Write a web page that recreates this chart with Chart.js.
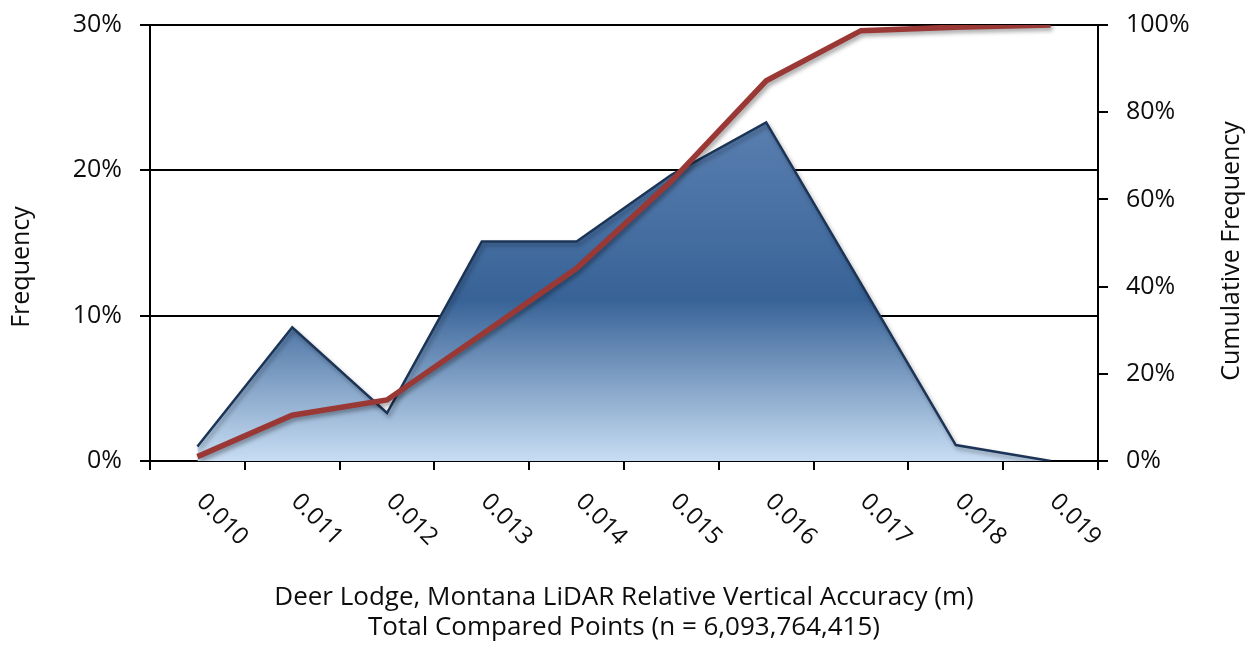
<!DOCTYPE html>
<html>
<head>
<meta charset="utf-8">
<script src="https://cdn.jsdelivr.net/npm/chart.js@4"></script>
<style>
  body { margin: 0; background: #fff; }
  #wrap { width: 1254px; height: 650px; position: relative; }
</style>
</head>
<body>
<div id="wrap"><canvas id="histChart"></canvas></div>
<script>
// data
const categories = ['0.010', '0.011', '0.012', '0.013', '0.014', '0.015', '0.016', '0.017', '0.018', '0.019'];
const frequency = [1.0, 9.2, 3.3, 15.1, 15.1, 19.7, 23.3, 12.2, 1.1, 0];
const cumulative = [1.0, 10.5, 14.0, 29.0, 44.2, 64.2, 87.2, 98.7, 99.5, 100];
const leftTicks = [0, 10, 20, 30];
const rightTicks = [0, 20, 40, 60, 80, 100];
const xTitleLines = ['Deer Lodge, Montana LiDAR Relative Vertical Accuracy (m)', 'Total Compared Points (n = 6,093,764,415)'];

const FONT = '"Open Sans", "DejaVu Sans", sans-serif';
const TEXT = '#0d0d0d';

// drop shadow for the area and the red line
const shadowPlugin = {
  id: 'shadows',
  beforeDatasetDraw(chart, args) {
    const ctx = chart.ctx;
    ctx.save();
    ctx.shadowColor = 'rgba(0,0,0,0.35)';
    ctx.shadowBlur = 4;
    ctx.shadowOffsetX = 2;
    ctx.shadowOffsetY = 3;
  },
  afterDatasetDraw(chart) {
    chart.ctx.restore();
  }
};

// rotated category labels and axis titles
const textPlugin = {
  id: 'texts',
  afterDraw(chart) {
    const ctx = chart.ctx;
    const area = chart.chartArea;
    const xs = chart.scales.x;
    ctx.save();
    ctx.fillStyle = TEXT;
    ctx.font = '24px ' + FONT;
    ctx.textAlign = 'left';
    ctx.textBaseline = 'middle';
    categories.forEach((c, i) => {
      const x = xs.getPixelForTick(i);
      ctx.save();
      ctx.translate(x + 3, area.bottom + 37);
      ctx.rotate(Math.PI / 4);
      ctx.fillText(c, 0, 0);
      ctx.restore();
    });

    ctx.font = '26px ' + FONT;
    ctx.textAlign = 'center';
    ctx.textBaseline = 'alphabetic';
    const cx = (area.left + area.right) / 2;
    ctx.fillText(xTitleLines[0], cx, 605);
    ctx.fillText(xTitleLines[1], cx, 635);

    ctx.font = '25px ' + FONT;
    ctx.textBaseline = 'middle';
    ctx.save();
    ctx.translate(22, 267);
    ctx.rotate(-Math.PI / 2);
    ctx.fillText('Frequency', 0, 0);
    ctx.restore();

    ctx.save();
    ctx.translate(1232, 251);
    ctx.rotate(-Math.PI / 2);
    ctx.fillText('Cumulative Frequency', 0, 0);
    ctx.restore();
    ctx.restore();
  }
};

function areaGradient(context) {
  const { ctx, chartArea } = context.chart;
  if (!chartArea) return '#4a72a5';
  const g = ctx.createLinearGradient(0, chartArea.top, 0, chartArea.bottom);
  g.addColorStop(0, '#6f91be');
  g.addColorStop(0.22, '#5a7fb0');
  g.addColorStop(0.63, '#386397');
  g.addColorStop(1, '#c8ddf3');
  return g;
}

function fitY(width) {
  return s => {
    s.width = width;
    s.paddingTop = 0;
    s.paddingBottom = 0;
  };
}

const ctx = document.getElementById('histChart').getContext('2d');
const histChart = new Chart(ctx, {
  type: 'line',
  data: {
    labels: categories,
    datasets: [{
      label: 'Cumulative Frequency',
      data: cumulative,
      yAxisID: 'y1',
      borderColor: '#9a3835',
      borderWidth: 5.5,
      pointRadius: 0,
      tension: 0,
      fill: false,
      order: 0
    }, {
      label: 'Frequency',
      data: frequency,
      yAxisID: 'y',
      borderColor: '#1c3557',
      borderWidth: 2.5,
      backgroundColor: areaGradient,
      pointRadius: 0,
      tension: 0,
      fill: 'origin',
      order: 1
    }]
  },
  options: {
    responsive: true,
    maintainAspectRatio: false,
    animation: false,
    layout: { padding: { top: 25, left: 0, right: 0, bottom: 0 } },
    plugins: {
      legend: { display: false },
      tooltip: { enabled: false }
    },
    scales: {
      x: {
        offset: true,
        grid: { offset: true, drawOnChartArea: false, color: '#000', lineWidth: 2, tickLength: 9 },
        border: { display: true, color: '#000', width: 2 },
        ticks: { display: false },
        afterFit: s => { s.height = 189; s.paddingLeft = 0; s.paddingRight = 0; }
      },
      y: {
        position: 'left',
        min: 0,
        max: 30,
        afterBuildTicks: s => { s.ticks = leftTicks.map(v => ({ value: v })); },
        grid: { color: '#000', lineWidth: 2, tickLength: 10 },
        border: { display: true, color: '#000', width: 2 },
        ticks: {
          padding: 18,
          color: TEXT,
          font: { family: FONT, size: 25 },
          callback: v => v + '%'
        },
        afterFit: fitY(150)
      },
      y1: {
        position: 'right',
        min: 0,
        max: 100,
        afterBuildTicks: s => { s.ticks = rightTicks.map(v => ({ value: v })); },
        grid: { drawOnChartArea: false, color: '#000', lineWidth: 2, tickLength: 10 },
        border: { display: true, color: '#000', width: 2 },
        ticks: {
          padding: 18,
          color: TEXT,
          font: { family: FONT, size: 25 },
          callback: v => v + '%'
        },
        afterFit: fitY(156)
      }
    }
  },
  plugins: [shadowPlugin, textPlugin]
});
</script>
</body>
</html>
